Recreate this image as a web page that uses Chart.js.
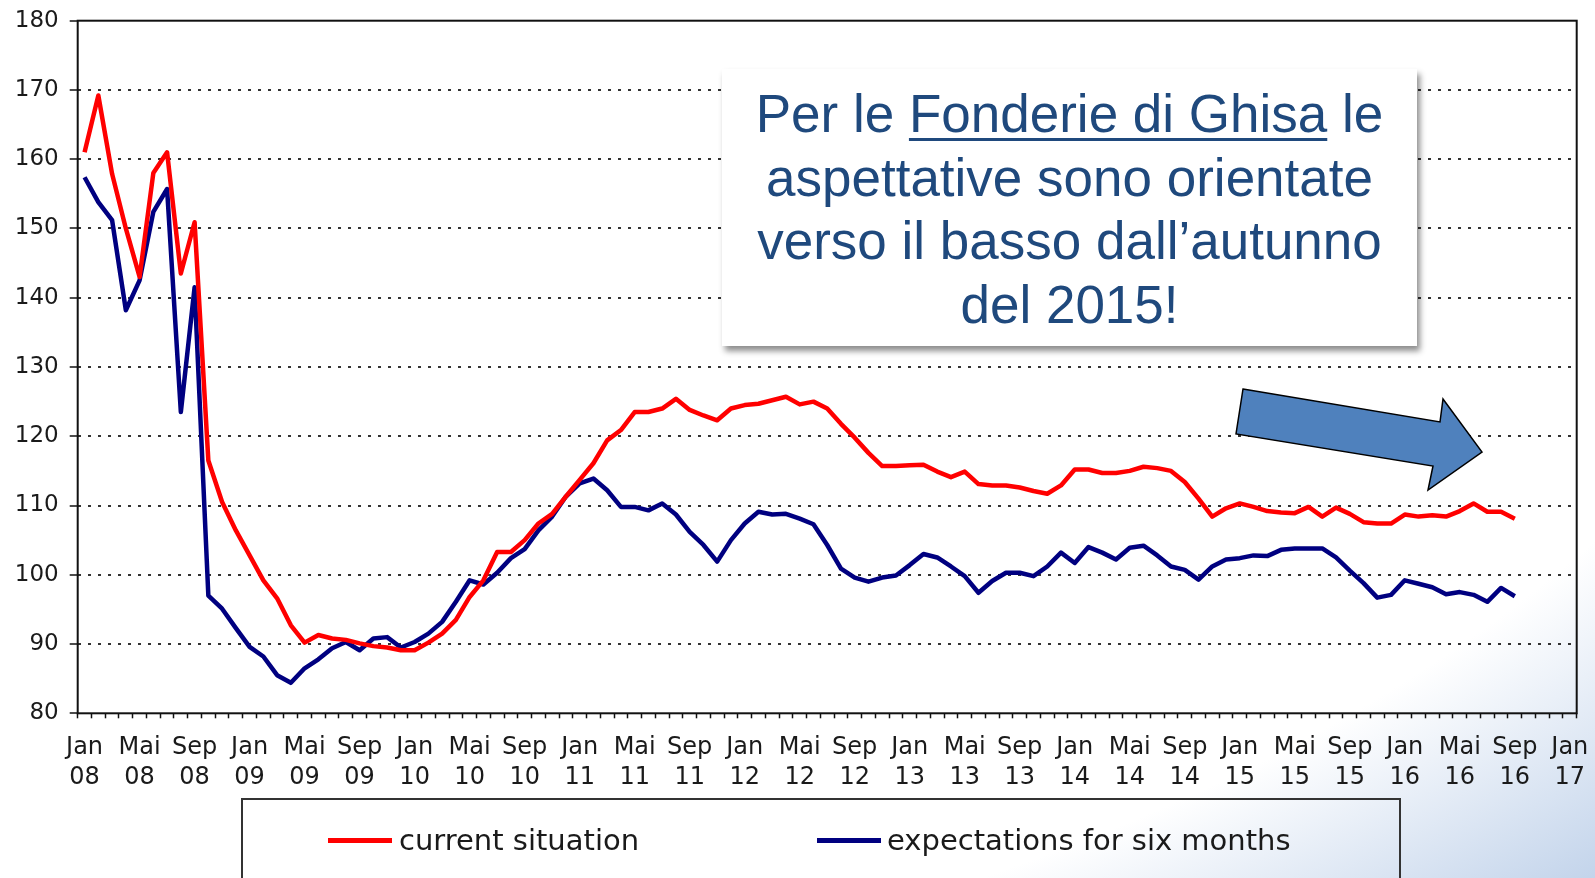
<!DOCTYPE html>
<html>
<head>
<meta charset="utf-8">
<title>Fonderie di Ghisa</title>
<script src="https://cdn.jsdelivr.net/npm/chart.js@4/dist/chart.umd.min.js"></script>
<style>
  html, body { margin: 0; padding: 0; width: 1595px; height: 878px; overflow: hidden; }
  body {
    position: relative;
    background: radial-gradient(ellipse farthest-corner at 0 0, #ffffff 0%, #ffffff 83%, #c3d4eb 100%);
    font-family: 'DejaVu Sans', sans-serif;
  }
  #wrap { position: absolute; left: 0; top: 0; width: 1595px; height: 800px; }
  #note {
    position: absolute; left: 722px; top: 69px; width: 695px; height: 277px;
    box-sizing: border-box; padding-top: 13px;
    background: #fff; box-shadow: 3px 5px 6px rgba(0,0,0,0.45);
    text-align: center; color: #1f497d;
    font-family: 'Liberation Sans', Arial, sans-serif; font-size: 53px; line-height: 63.5px;
  }
  #note u { text-decoration-thickness: 3px; text-underline-offset: 6px; }
  #legend {
    position: absolute; left: 241px; top: 798px; width: 1160px; height: 120px;
    box-sizing: border-box; border: 2px solid #333;
  }
  .lg-line { position: absolute; height: 5px; width: 64px; top: 838px; }
  .lg-text { position: absolute; top: 820px; font-size: 29px; line-height: 40px; color: #1a1a1a; }
</style>
</head>
<body>
<div id="wrap"><canvas id="chart"></canvas></div>

<div id="note">Per le <u>Fonderie di Ghisa</u> le<br>aspettative sono orientate<br>verso il basso dall’autunno<br>del 2015!</div>

<div id="legend"></div>
<div class="lg-line" style="left:328px; background:#ff0000;"></div>
<div class="lg-text" style="left:399px;">current situation</div>
<div class="lg-line" style="left:817px; background:#000080;"></div>
<div class="lg-text" style="left:887px;">expectations for six months</div>

<script>
// monthly values, Jan 2008 .. Sep 2016
const currentSituation = [
  161.0, 169.2, 157.9, 150.0, 143.0, 158.0, 161.0, 143.5, 150.9, 116.5, 110.5, 106.4,
  102.8, 99.2, 96.6, 92.7, 90.2, 91.3, 90.8, 90.6, 90.1, 89.7, 89.5, 89.1,
  89.1, 90.2, 91.5, 93.5, 96.8, 99.2, 103.3, 103.3, 105.0, 107.4, 108.8, 111.3,
  113.7, 116.1, 119.4, 120.9, 123.5, 123.5, 124.0, 125.4, 123.8, 123.0, 122.3, 124.0,
  124.5, 124.7, 125.2, 125.7, 124.6, 125.0, 124.0, 121.8, 119.8, 117.6, 115.7, 115.7,
  115.8, 115.9, 114.9, 114.1, 114.9, 113.1, 112.9, 112.9, 112.6, 112.1, 111.7, 112.9,
  115.2, 115.2, 114.7, 114.7, 115.0, 115.6, 115.4, 115.0, 113.4, 111.0, 108.4, 109.6,
  110.3, 109.8, 109.2, 109.0, 108.9, 109.8, 108.4, 109.7, 108.8, 107.6, 107.4, 107.4,
  108.7, 108.4, 108.6, 108.4, 109.2, 110.3, 109.1, 109.1, 108.1
];
const expectations = [
  157.4, 153.8, 151.2, 138.2, 142.5, 152.4, 155.7, 123.5, 141.5, 97.0, 95.1, 92.3,
  89.6, 88.2, 85.5, 84.4, 86.5, 87.8, 89.4, 90.3, 89.1, 90.8, 91.0, 89.5,
  90.3, 91.5, 93.2, 96.1, 99.2, 98.6, 100.3, 102.4, 103.7, 106.4, 108.4, 111.3,
  113.2, 113.9, 112.2, 109.8, 109.8, 109.3, 110.3, 108.7, 106.2, 104.3, 101.9, 105.0,
  107.4, 109.1, 108.7, 108.8, 108.1, 107.3, 104.3, 100.9, 99.6, 99.0, 99.6, 99.9,
  101.4, 103.0, 102.5, 101.2, 99.8, 97.4, 99.1, 100.3, 100.3, 99.8, 101.2, 103.2,
  101.7, 104.0, 103.2, 102.2, 103.9, 104.2, 102.8, 101.2, 100.7, 99.3, 101.2, 102.2,
  102.4, 102.8, 102.7, 103.6, 103.8, 103.8, 103.8, 102.5, 100.6, 98.8, 96.7, 97.1,
  99.2, 98.7, 98.2, 97.2, 97.5, 97.1, 96.1, 98.1, 96.9
];

const monthNames = ['Jan', 'Feb', 'Mär', 'Apr', 'Mai', 'Jun', 'Jul', 'Aug', 'Sep', 'Okt', 'Nov', 'Dez'];
const years = ['08', '09', '10', '11', '12', '13', '14', '15', '16', '17'];
const yTicks = { min: 80, max: 180, step: 10 };

// one category per month, Jan 08 .. Jan 17
const labels = [];
years.forEach((yy, y) => {
    monthNames.forEach(m => {
        if (y < years.length - 1 || m === 'Jan') labels.push([m, yy]);
    });
});

const framePlugin = {
    id: 'frame',
    beforeDatasetsDraw(chart) {
        const { ctx, chartArea: a } = chart;
        ctx.save();
        ctx.strokeStyle = '#111';
        ctx.lineWidth = 2;
        ctx.strokeRect(a.left, a.top, a.right - a.left, a.bottom - a.top);
        ctx.restore();
    },
    afterDraw(chart) {
        // block arrow pointing down-right
        const { ctx } = chart;
        const pts = [[1243, 389], [1440, 422], [1443, 399], [1482, 452], [1428, 490], [1433, 466], [1236, 434]];
        ctx.save();
        ctx.beginPath();
        pts.forEach(([x, y], i) => i ? ctx.lineTo(x, y) : ctx.moveTo(x, y));
        ctx.closePath();
        ctx.fillStyle = '#4f81bd';
        ctx.fill();
        ctx.strokeStyle = '#000';
        ctx.lineWidth = 1.5;
        ctx.stroke();
        ctx.restore();
    }
};

new Chart(document.getElementById('chart'), {
    type: 'line',
    data: {
        labels: labels,
        datasets: [
            {
                label: 'current situation',
                data: currentSituation,
                borderColor: '#ff0000',
                borderWidth: 4.5,
                pointRadius: 0,
                borderJoinStyle: 'round',
                tension: 0
            },
            {
                label: 'expectations for six months',
                data: expectations,
                borderColor: '#000080',
                borderWidth: 4.5,
                pointRadius: 0,
                borderJoinStyle: 'round',
                tension: 0
            }
        ]
    },
    options: {
        responsive: true,
        maintainAspectRatio: false,
        animation: false,
        layout: { padding: { top: 20.7, right: 18.3, left: 0, bottom: 0 } },
        plugins: { legend: { display: false }, tooltip: { enabled: false } },
        scales: {
            x: {
                type: 'category',
                offset: true,
                afterFit: s => { s.height = 86.7; s.paddingLeft = 0; s.paddingRight = 0; },
                grid: { drawOnChartArea: false, offset: true, tickLength: 5, tickColor: '#111', tickWidth: 1.5 },
                border: { display: false },
                ticks: {
                    autoSkip: false, maxRotation: 0, minRotation: 0, padding: 14, color: '#1a1a1a',
                    font: { family: 'DejaVu Sans', size: 24, lineHeight: 1.25 },
                    callback: (v, i) => i % 4 === 0 ? labels[i] : ''
                }
            },
            y: {
                min: yTicks.min,
                max: yTicks.max,
                afterFit: s => { s.width = 77.7; s.paddingTop = 0; s.paddingBottom = 0; },
                grid: {
                    color: c => (c.tick.value === yTicks.min || c.tick.value === yTicks.max) ? 'rgba(0,0,0,0)' : '#333',
                    lineWidth: 2, tickLength: 8, tickColor: '#111', tickWidth: 1.5, tickBorderDash: []
                },
                border: { display: false, dash: [3, 7] },
                ticks: {
                    stepSize: yTicks.step, padding: 11, color: '#1a1a1a',
                    font: { family: 'DejaVu Sans', size: 23 }
                }
            }
        }
    },
    plugins: [framePlugin]
});
</script>
</body>
</html>
